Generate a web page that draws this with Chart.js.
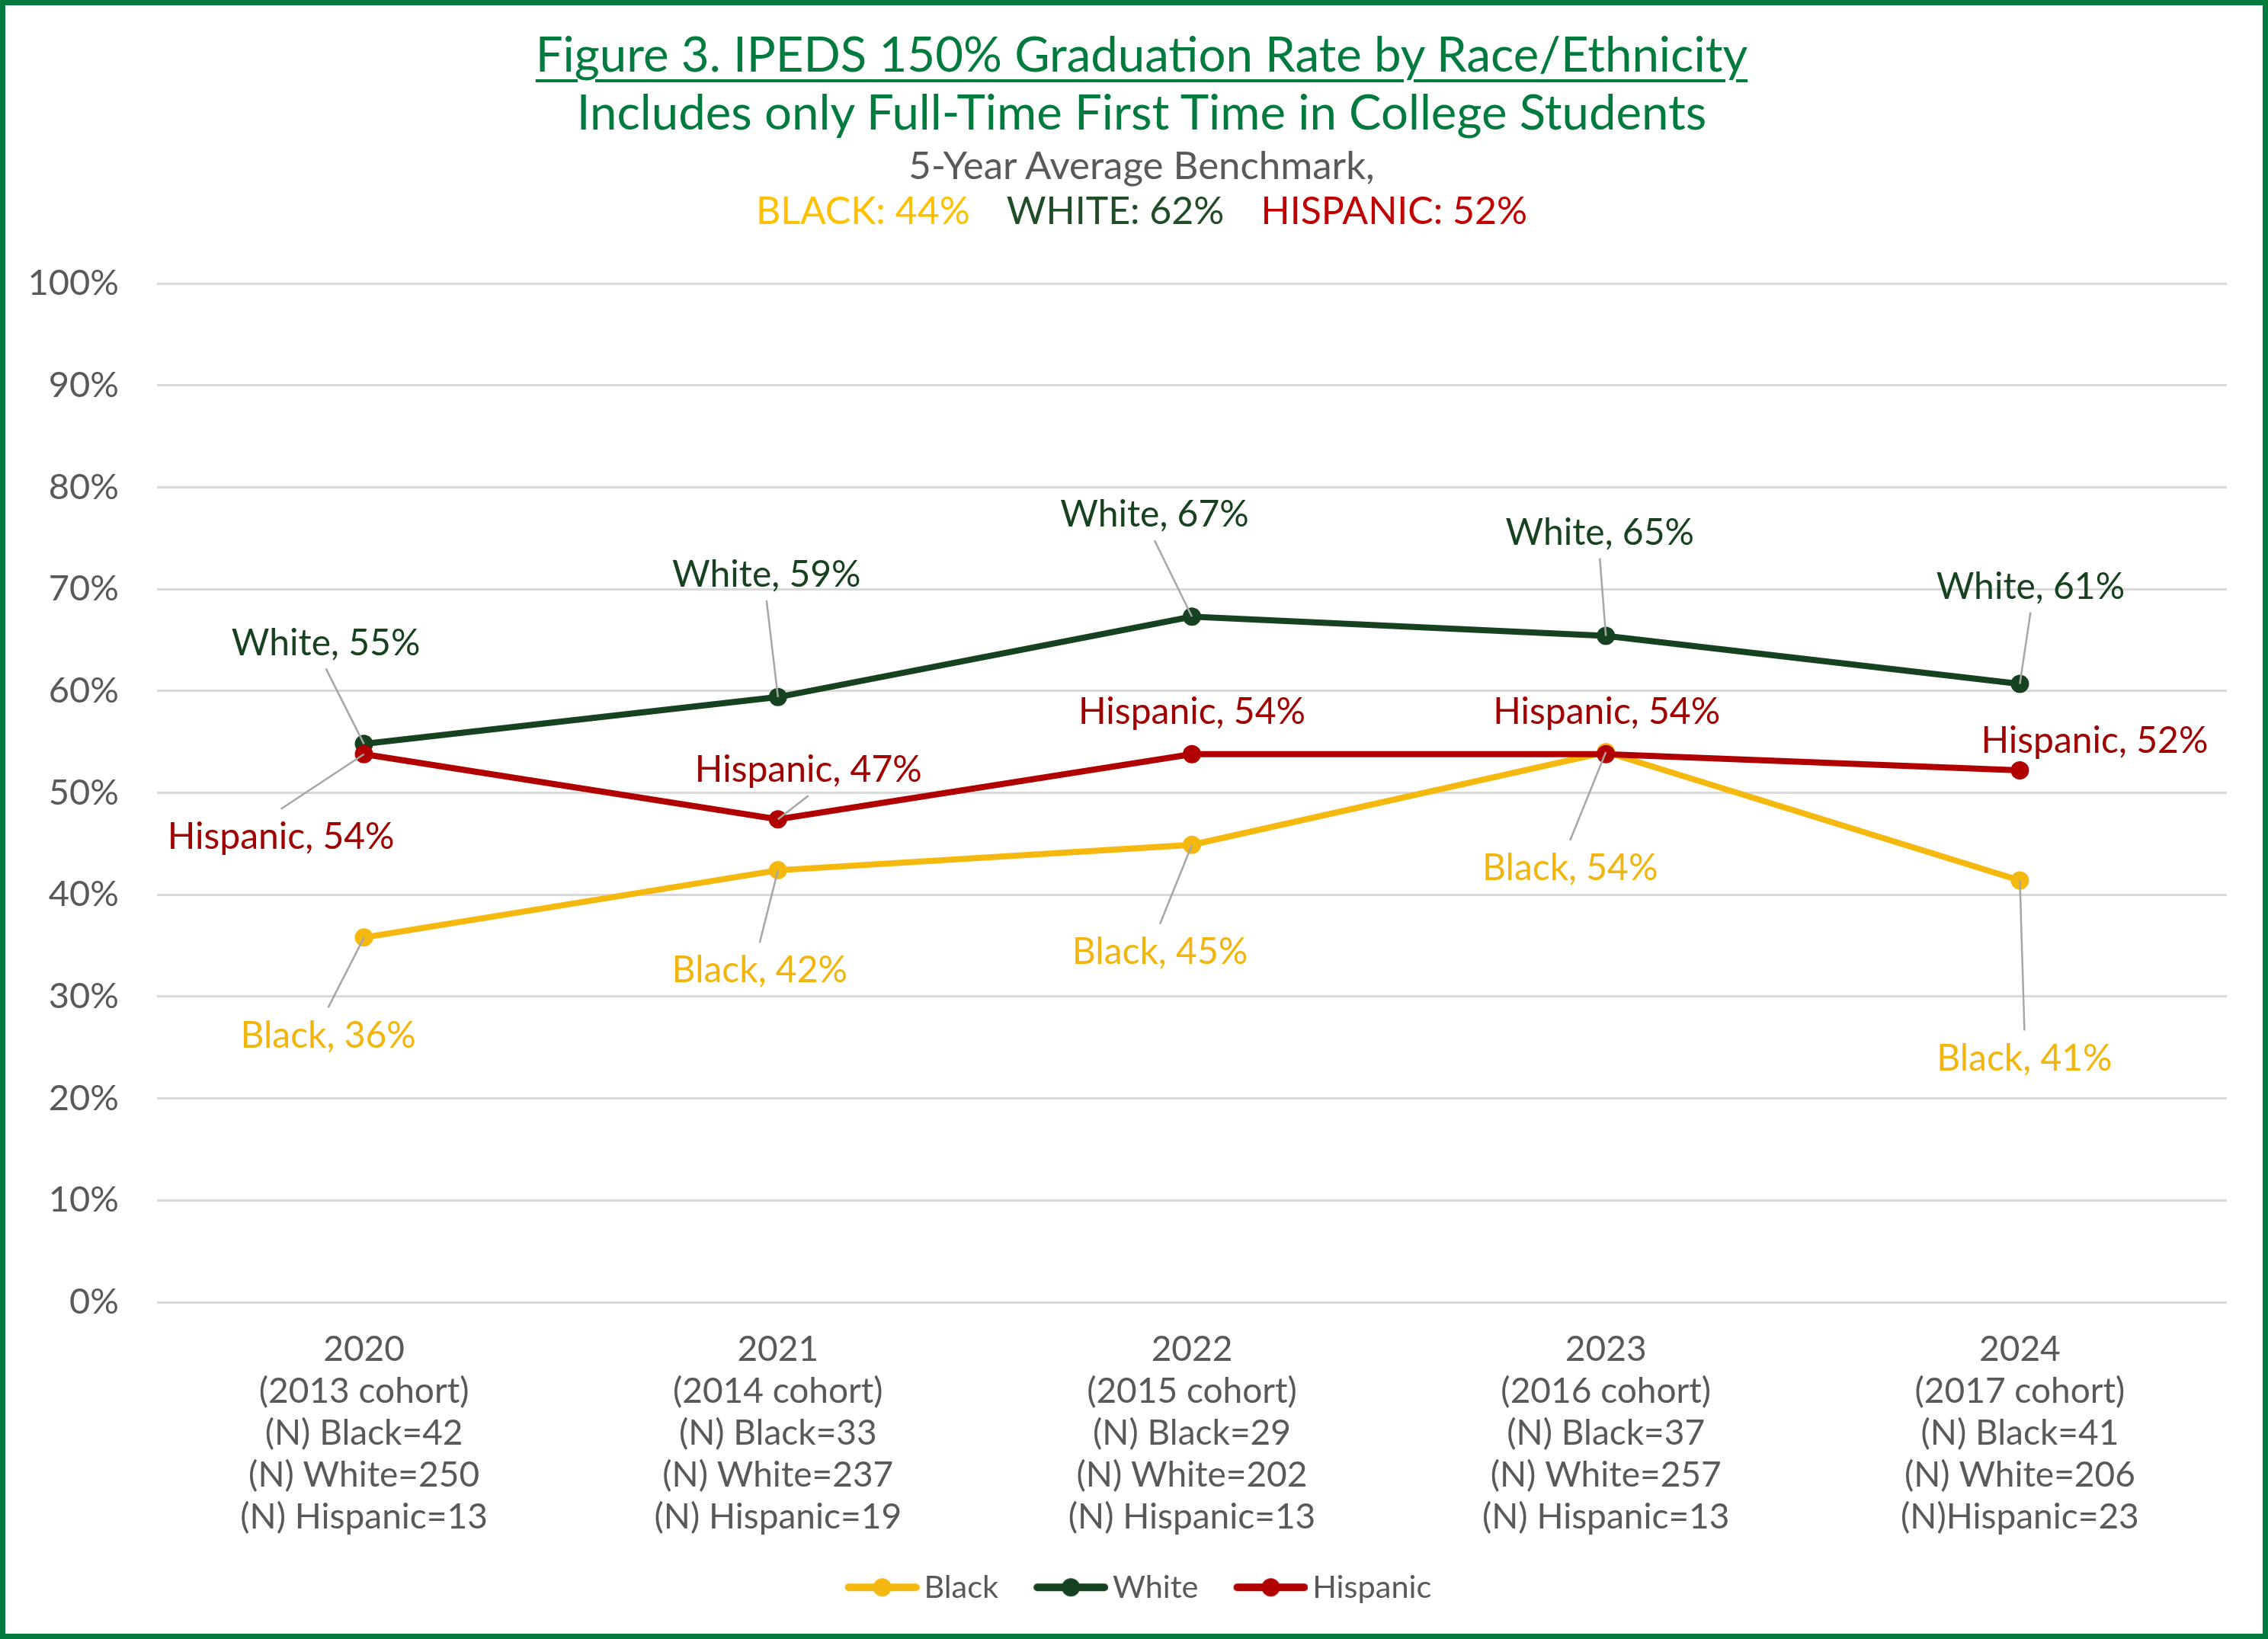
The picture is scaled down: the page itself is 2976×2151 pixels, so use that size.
<!DOCTYPE html>
<html>
<head>
<meta charset="utf-8">
<script src="https://cdn.jsdelivr.net/npm/chart.js@4.4.1/dist/chart.umd.min.js"></script>
<style>
  html, body { margin: 0; padding: 0; background: #ffffff; }
  #wrap { position: relative; width: 2976px; height: 2151px; overflow: hidden; font-family: Lato, "Open Sans", sans-serif; background: #fff; }
  #frame { position: absolute; left: 0; top: 0; width: 2976px; height: 2151px; box-sizing: border-box; border: 7px solid #007A3D; pointer-events: none; z-index: 3; }
  .hd { position: absolute; left: 10px; width: 2976px; text-align: center; white-space: nowrap; z-index: 2; line-height: 1.2; }
  #t1 { top: 32px; font-size: 63.5px; color: #007A3D; text-decoration: underline; text-decoration-thickness: 4px; text-underline-offset: 10px; }
  #t2 { top: 108px; font-size: 63.5px; color: #007A3D; }
  #t3 { top: 185px; font-size: 51px; color: #595959; }
  #t4 { top: 245px; font-size: 50px; }
  #t4 span { margin: 0 24px; }
  #chartBox { position: absolute; left: 0; top: 0; width: 2976px; height: 2151px; z-index: 1; }
</style>
</head>
<body>
<div id="wrap">
  <div id="t1" class="hd">Figure 3. IPEDS 150% Graduation Rate by Race/Ethnicity</div>
  <div id="t2" class="hd">Includes only Full-Time First Time in College Students</div>
  <div id="t3" class="hd">5-Year Average Benchmark,</div>
  <div id="t4" class="hd"><span style="color:#FFC000">BLACK: 44%</span><span style="color:#1E4D26">WHITE: 62%</span><span style="color:#C00000">HISPANIC: 52%</span></div>
  <div id="chartBox"><canvas id="c"></canvas></div>
  <div id="frame"></div>
</div>
<script>
// ---- data ----
const years = ['2020', '2021', '2022', '2023', '2024'];
const cohorts = ['(2013 cohort)', '(2014 cohort)', '(2015 cohort)', '(2016 cohort)', '(2017 cohort)'];
const nBlack = ['(N) Black=42', '(N) Black=33', '(N) Black=29', '(N) Black=37', '(N) Black=41'];
const nWhite = ['(N) White=250', '(N) White=237', '(N) White=202', '(N) White=257', '(N) White=206'];
const nHispanic = ['(N) Hispanic=13', '(N) Hispanic=19', '(N) Hispanic=13', '(N) Hispanic=13', '(N)Hispanic=23'];
const seriesNames = ['Black', 'White', 'Hispanic'];
const blackRate = [35.8, 42.4, 44.9, 54.0, 41.4];
const whiteRate = [54.8, 59.4, 67.3, 65.4, 60.7];
const hispanicRate = [53.8, 47.4, 53.8, 53.8, 52.2];
const yTicks = [0, 10, 20, 30, 40, 50, 60, 70, 80, 90, 100];

// ---- styles ----
const lineColors = ['#F5B80F', '#17421F', '#B00000'];
const labelColors = ['#F2B50E', '#17421F', '#A00000'];
const drawOrder = [2, 1, 0];
// label offsets (px) from each point, per series
const labelOffsets = [
  [[-47, 127], [-24, 130], [-42, 139], [-47, 151], [6, 232]],
  [[-50, -134], [-15, -162], [-49, -135], [-8, -137], [14, -129]],
  [[-109, 107], [40, -66], [0, -57], [1, -57], [98, -40]]
];
const leaderOn = [
  [true, true, true, true, true],
  [true, true, true, true, true],
  [true, true, false, false, false]
];

const categoryLabels = years.map((y, i) => [y, cohorts[i], nBlack[i], nWhite[i], nHispanic[i]]);
const seriesData = [blackRate, whiteRate, hispanicRate];

// legend icon: line with marker; drawn shifted right inside a wider canvas
function legendIcon(color) {
  const cv = document.createElement('canvas');
  cv.width = 114; cv.height = 28;
  const g = cv.getContext('2d');
  g.strokeStyle = color; g.lineWidth = 10; g.lineCap = 'round';
  g.beginPath(); g.moveTo(21, 14); g.lineTo(109, 14); g.stroke();
  g.fillStyle = color;
  g.beginPath(); g.arc(65, 14, 12, 0, Math.PI * 2); g.fill();
  return cv;
}
const icons = lineColors.map(legendIcon);

const LABEL_FONT = 48;
const dataLabelPlugin = {
  id: 'dataLabels',
  afterLayout(chart) {
    if (chart.legend) { chart.legend.left += 22; chart.legend.right += 22; }
  },
  afterDatasetsDraw(chart) {
    const ctx = chart.ctx;
    ctx.save();
    ctx.font = `${LABEL_FONT}px Lato, sans-serif`;
    ctx.textAlign = 'center';
    ctx.textBaseline = 'alphabetic';
    chart.data.datasets.forEach((ds, di) => {
      const meta = chart.getDatasetMeta(di);
      meta.data.forEach((pt, i) => {
        const [dx, dy] = labelOffsets[di][i];
        const lx = pt.x + dx, ly = pt.y + dy;
        if (leaderOn[di][i]) {
          const sy = ly + (dy < 0 ? 35 : -35);
          ctx.strokeStyle = '#A6A6A6';
          ctx.lineWidth = 2.5;
          ctx.beginPath(); ctx.moveTo(lx, sy); ctx.lineTo(pt.x, pt.y); ctx.stroke();
        }
        ctx.fillStyle = labelColors[di];
        ctx.fillText(`${ds.label}, ${Math.round(ds.data[i])}%`, lx, ly + 0.358 * LABEL_FONT);
      });
    });
    ctx.restore();
  }
};

const PAD = { left: 20, right: 54, top: 372, bottom: 37 };
const PLOT_BOTTOM = 1709;

new Chart(document.getElementById('c'), {
  type: 'line',
  data: {
    labels: categoryLabels,
    datasets: seriesNames.map((name, i) => ({
      label: name,
      data: seriesData[i],
      order: drawOrder[i],
      borderColor: lineColors[i],
      backgroundColor: lineColors[i],
      borderWidth: 8,
      pointRadius: 12,
      pointHoverRadius: 12,
      pointBorderWidth: 0,
      pointBackgroundColor: lineColors[i],
      tension: 0,
      fill: false
    }))
  },
  options: {
    responsive: true,
    maintainAspectRatio: false,
    devicePixelRatio: 1,
    animation: false,
    layout: { padding: PAD },
    plugins: {
      title: { display: false },
      tooltip: { enabled: false },
      legend: {
        display: true,
        position: 'bottom',
        labels: {
          usePointStyle: true,
          pointStyleWidth: 84,
          color: '#595959',
          font: { family: 'Lato, sans-serif', size: 41.5 },
          padding: 45,
          generateLabels(chart) {
            return chart.data.datasets.map((ds, i) => ({
              text: ds.label,
              pointStyle: icons[i],
              fillStyle: lineColors[i],
              strokeStyle: lineColors[i],
              lineWidth: 0,
              hidden: false,
              datasetIndex: i,
              fontColor: '#595959'
            }));
          }
        }
      }
    },
    scales: {
      x: {
        offset: true,
        grid: { display: false, drawTicks: false },
        border: { display: false },
        ticks: {
          color: '#595959',
          font: { family: 'Lato, sans-serif', size: 46, lineHeight: '55px' },
          padding: 35,
          maxRotation: 0,
          autoSkip: false
        },
        afterFit(scale) {
          const lg = scale.chart.legend ? scale.chart.legend.height : 0;
          scale.height = scale.chart.height - PAD.bottom - lg - PLOT_BOTTOM;
        }
      },
      y: {
        min: 0,
        max: 100,
        afterBuildTicks(scale) { scale.ticks = yTicks.map(v => ({ value: v })); },
        grid: { color: '#D9D9D9', lineWidth: 3, drawTicks: false },
        border: { display: false },
        ticks: {
          color: '#595959',
          font: { family: 'Lato, sans-serif', size: 47 },
          padding: 50,
          callback: v => v + '%'
        },
        afterFit(scale) { scale.width = 206 - PAD.left; }
      }
    }
  },
  plugins: [dataLabelPlugin]
});
</script>
</body>
</html>
